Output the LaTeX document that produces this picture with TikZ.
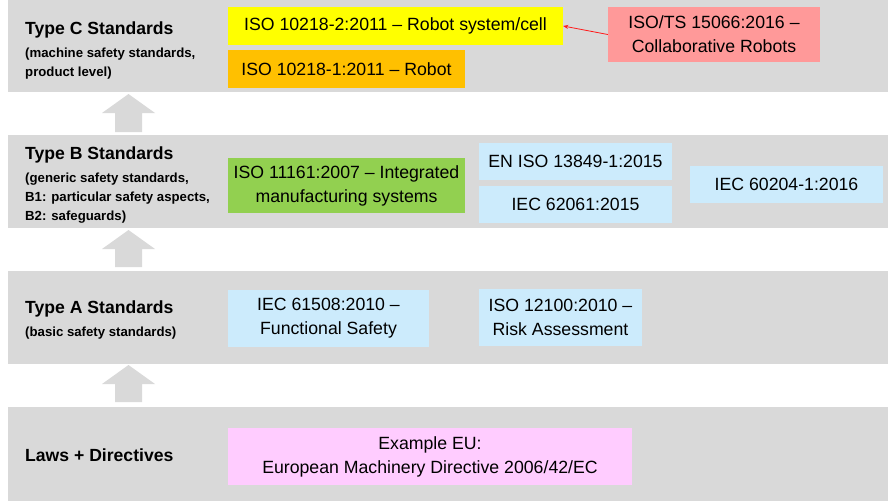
\documentclass[tikz,border=0pt]{standalone}
\usepackage{fontspec}
\setmainfont{Liberation Sans}
\usetikzlibrary{arrows.meta}
\definecolor{bandgray}{HTML}{D9D9D9}
\definecolor{cyel}{HTML}{FFFF00}
\definecolor{corange}{HTML}{FFC000}
\definecolor{cred}{HTML}{FF9999}
\definecolor{cgreen}{HTML}{92D050}
\definecolor{cblue}{HTML}{CCEBFC}
\definecolor{cpink}{HTML}{FFCCFF}
\definecolor{carrow}{HTML}{FF1A1A}
\tikzset{
  band/.style={fill=bandgray, draw=none},
  uparrow/.style={fill=bandgray, draw=none},
  stdbox/.style={draw=none, inner sep=0pt, align=center, text=black,
    font=\fontsize{17.7}{24}\selectfont},
  ltitle/.style={anchor=west, inner sep=0pt, font=\bfseries\fontsize{17.6}{20}\selectfont},
  lsub/.style={anchor=north west, inner sep=0pt, align=left, font=\bfseries\fontsize{13.2}{19}\selectfont},
}
\begin{document}
\begin{tikzpicture}[x=1pt,y=-1pt]
\useasboundingbox (0,0) rectangle (888,503);
% bands
\fill[band] (8,0) rectangle (888,92);
\fill[band] (8,135) rectangle (888,228);
\fill[band] (8,271) rectangle (888,364);
\fill[band] (8,407) rectangle (888,501);
% up arrows
\fill[uparrow] (128.5,94) -- (155,113) -- (142,113) -- (142,132) -- (115,132) -- (115,113) -- (102,113) -- cycle;
\fill[uparrow] (128.5,230) -- (155,249) -- (142,249) -- (142,267) -- (115,267) -- (115,249) -- (102,249) -- cycle;
\fill[uparrow] (128.5,365) -- (155,384) -- (142,384) -- (142,402) -- (115,402) -- (115,384) -- (102,384) -- cycle;
% labels
\node[ltitle] (tc) at (25,30) {Type C Standards};
\node[lsub] (tcs) at (25,47.5) {(machine safety standards,\\product level)};
\node[ltitle] (tb) at (25,155) {Type B Standards};
\node[lsub] (tbs) at (25,172.5) {(generic safety standards,\\B1: particular safety aspects,\\B2: safeguards)};
\node[ltitle] (ta) at (25,309) {Type A Standards};
\node[lsub] (tas) at (25,327) {(basic safety standards)};
\node[ltitle] (tl) at (25,455) {Laws + Directives};
% boxes
\node[stdbox, fill=cyel, minimum width=335, minimum height=38] (yel) at (395.5,26) {ISO 10218-2:2011 -- Robot system/cell};
\node[stdbox, fill=corange, minimum width=237, minimum height=38] (ora) at (346.5,69) {ISO 10218-1:2011 -- Robot};
\node[stdbox, fill=cred, minimum width=212, minimum height=55] (ts) at (714,34.5) {ISO/TS 15066:2016 --\\Collaborative Robots};
\node[stdbox, fill=cgreen, minimum width=237, minimum height=55] (gre) at (346.5,185.5) {ISO 11161:2007 -- Integrated\\manufacturing systems};
\node[stdbox, fill=cblue, minimum width=193, minimum height=37] (en) at (575.5,161.5) {EN ISO 13849-1:2015};
\node[stdbox, fill=cblue, minimum width=193, minimum height=37] (iec62) at (575.5,204.5) {IEC 62061:2015};
\node[stdbox, fill=cblue, minimum width=193, minimum height=37] (iec60) at (786.5,184.5) {IEC 60204-1:2016};
\node[stdbox, fill=cblue, minimum width=201, minimum height=57] (iec61) at (328.5,318.5) {IEC 61508:2010 --\\Functional Safety};
\node[stdbox, fill=cblue, minimum width=163, minimum height=57] (iso12) at (560.5,317.5) {ISO 12100:2010 --\\Risk Assessment};
\node[stdbox, fill=cpink, minimum width=404, minimum height=57] (eu) at (430,456.5) {Example EU:\\European Machinery Directive 2006/42/EC};
% connector
\draw[carrow, line width=0.8pt, -{Stealth[length=5pt,width=4pt]}] (ts.west) -- (yel.east);
\end{tikzpicture}
\end{document}
